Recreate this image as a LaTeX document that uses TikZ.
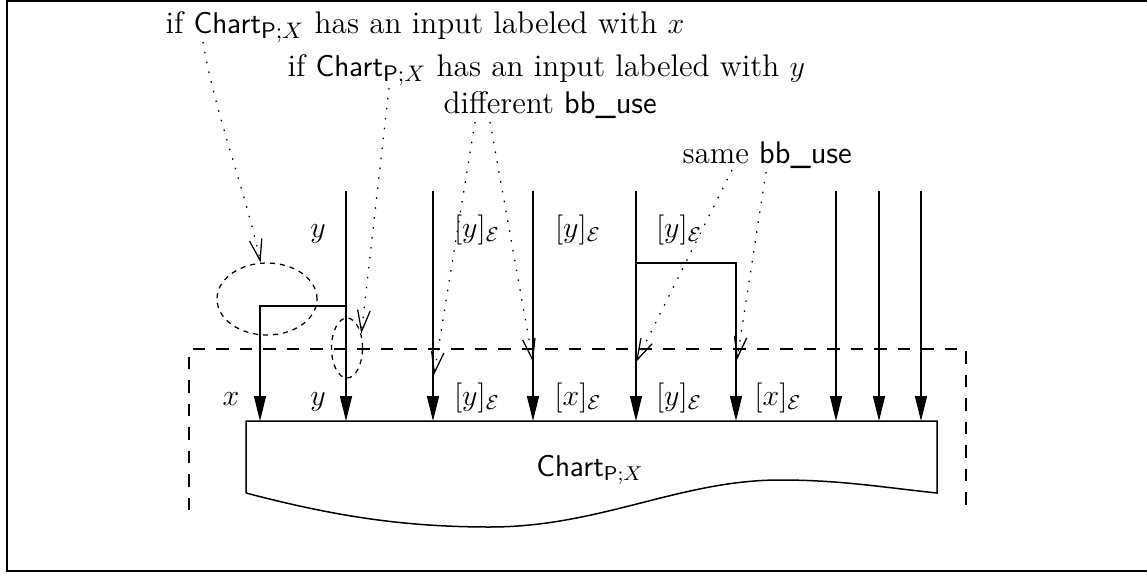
\documentclass[tikz,border=0pt]{standalone}
\usepackage{amsmath}
\usetikzlibrary{arrows.meta,shapes.geometric}
\newcommand{\chartpx}{\ensuremath{\mathsf{Chart}_{\mathsf{P};X}}}
\newcommand{\bbuse}{\textsf{bb\_use}}

\begin{document}
\begin{tikzpicture}[
  x=0.4pt,y=-0.4pt,
  font=\fontsize{12}{14}\selectfont,
  wire/.style={line width=0.6pt,-{Triangle[length=10pt,width=4.8pt]}},
  hint/.style={line width=0.5pt,dash pattern=on 0.6pt off 3.4pt,
               -{Straight Barb[length=8.5pt,width=5pt]}},
  zone/.style={line width=0.5pt,dash pattern=on 5pt off 4.4pt},
  ring/.style={draw,ellipse,line width=0.5pt,dash pattern=on 2pt off 2pt,inner sep=0pt},
  lbl/.style={inner sep=0pt,anchor=base},
  note/.style={inner sep=0pt,anchor=base west,font=\fontsize{12.5}{15}\selectfont}
]
\useasboundingbox (0,0) rectangle (1147,574);
\draw[line width=1pt] (7,1) rectangle (1180,571);

% the chart with its wavy bottom
\draw[line width=0.6pt] (246,493) -- (246,421) -- (937,421) -- (937,493)
  .. controls (880,487) and (840,480) .. (780,480)
  .. controls (680,480) and (600,527) .. (490,527)
  .. controls (400,527) and (330,515) .. (246,493);
\node (chart) at (590,470) {\chartpx};

% dashed zone round the inputs
\draw[zone] (189,510) -- (189,349) -- (966,349) -- (966,510);

% inputs
\foreach \x in {260,346,433,533,636,736,836,879,921}
  \coordinate (in\x) at (\x,421);
\foreach \x in {346,433,533,636,836,879,921}
  \coordinate (top\x) at (\x,191);
\coordinate (fork346) at (346,306);
\coordinate (fork636) at (636,263);
\foreach \x in {346,433,533,636,836,879,921}
  \draw[wire] (top\x) -- (in\x);
\draw[wire] (fork346) -| (in260);
\draw[wire] (fork636) -| (in736);

% labels above
\node[lbl] (up1) at (318,237) {$y$};
\node[lbl] (up2) at (477,237) {$[y]_{\mathcal{E}}$};
\node[lbl] (up3) at (578,237) {$[y]_{\mathcal{E}}$};
\node[lbl] (up4) at (679,237) {$[y]_{\mathcal{E}}$};
% labels below
\node[lbl] (lo1) at (231,405) {$x$};
\node[lbl] (lo2) at (318,405) {$y$};
\node[lbl] (lo3) at (477,405) {$[y]_{\mathcal{E}}$};
\node[lbl] (lo4) at (578,405) {$[x]_{\mathcal{E}}$};
\node[lbl] (lo5) at (679,405) {$[y]_{\mathcal{E}}$};
\node[lbl] (lo6) at (778,405) {$[x]_{\mathcal{E}}$};

% dashed rings
\node[ring,minimum width=40pt,minimum height=28.8pt] (xring) at (267,299) {};
\node[ring,minimum width=12.4pt,minimum height=24pt] (yring) at (347,348) {};

% notes
\node[note] (ifx) at (165,33) {if \chartpx{} has an input labeled with $x$};
\node[note] (ify) at (287,76) {if \chartpx{} has an input labeled with $y$};
\node[note] (diffuse) at (443,113) {different \bbuse};
\node[note] (sameuse) at (682,163) {same \bbuse};

\coordinate (from1) at (203,42);
\coordinate (from2) at (389,88);
\coordinate (from3) at (475,122);
\coordinate (from4) at (490,122);
\coordinate (from5) at (732,170);
\coordinate (from6) at (766,172);
\coordinate (hit433) at (434,375);
\coordinate (hit533) at (533,362);
\coordinate (hit636) at (636,362);
\coordinate (hit736) at (737,360);

\draw[hint] (from1) .. controls (214,110) and (245,190) .. (xring.100);
\draw[hint] (from2) -- (yring.45);
\draw[hint] (from3) -- (hit433);
\draw[hint] (from4) -- (hit533);
\draw[hint] (from5) -- (hit636);
\draw[hint] (from6) -- (hit736);
\end{tikzpicture}
\end{document}
